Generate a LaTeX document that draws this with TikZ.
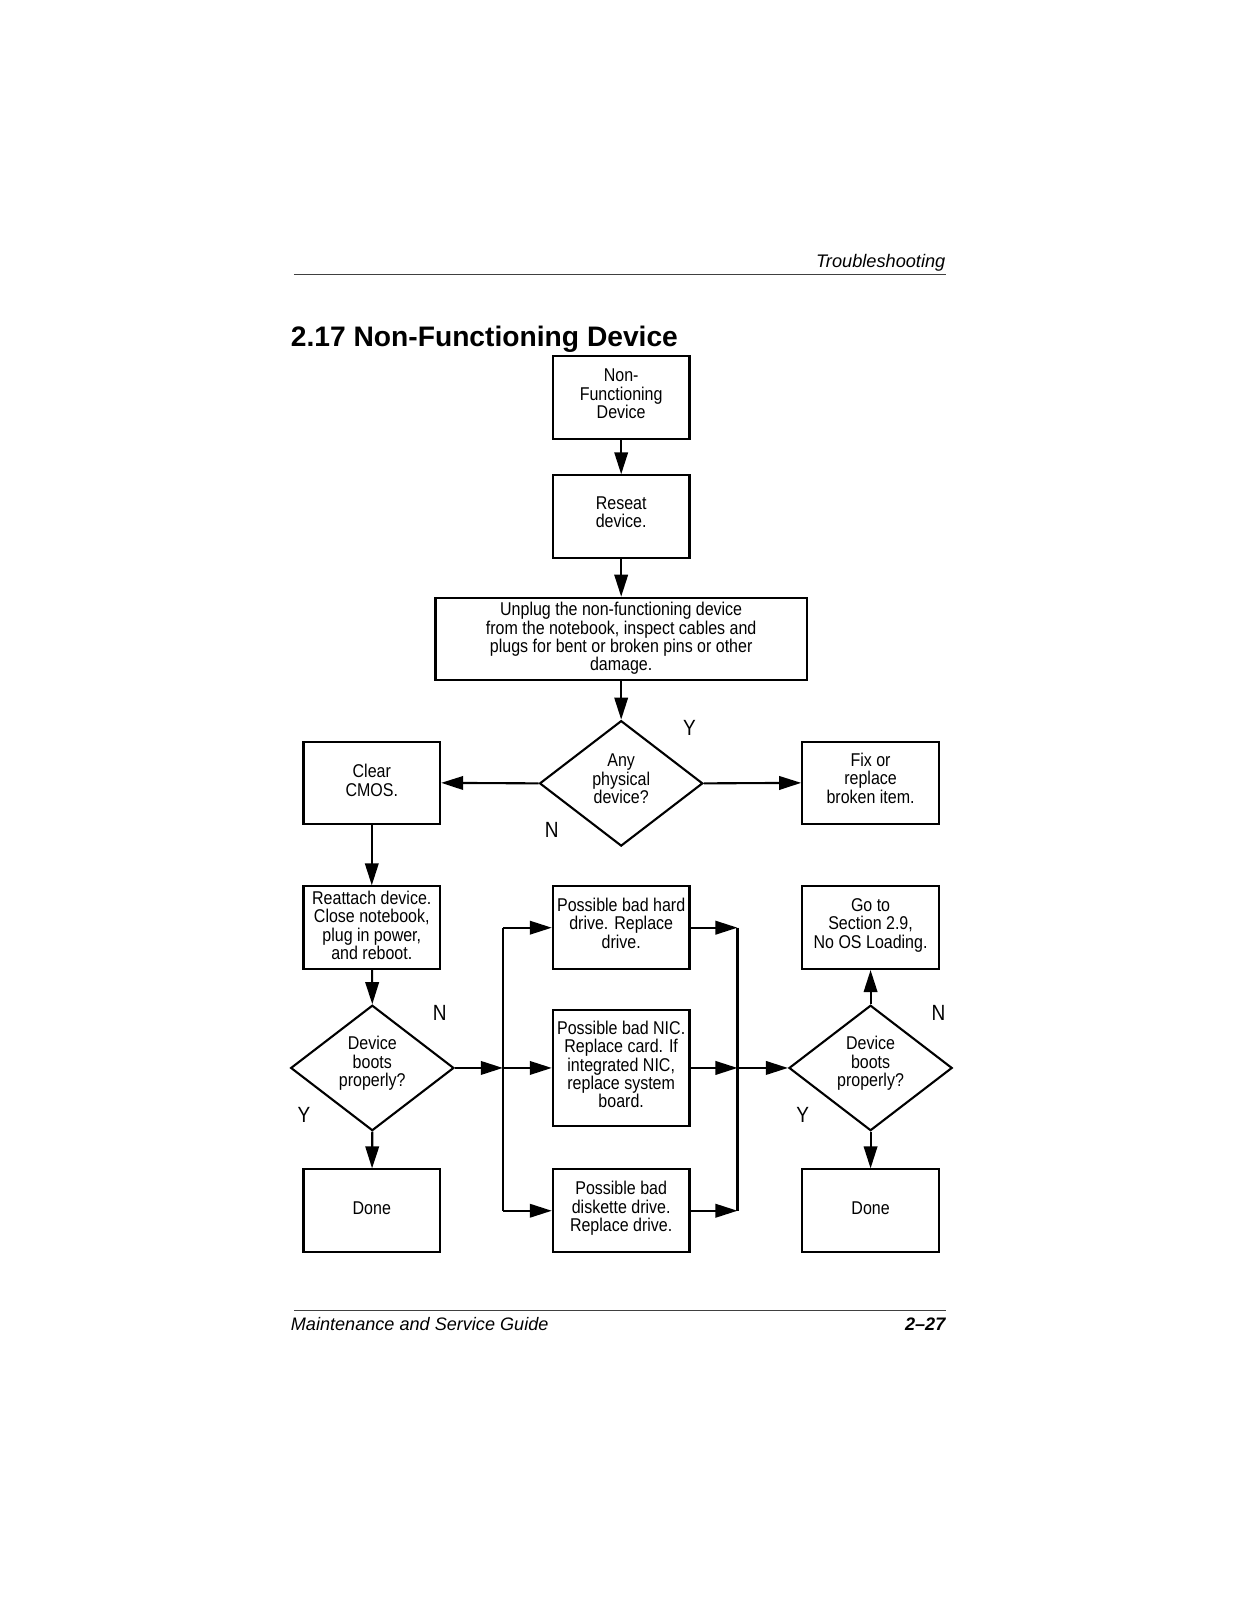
\documentclass[tikz,border=0pt]{standalone}
\usepackage{fontspec}
\setmainfont{Liberation Sans}
\newfontfamily\narrowfont{Liberation Sans}[FakeStretch=0.865]
\usetikzlibrary{arrows.meta,shapes.geometric}
\begin{document}
\begin{tikzpicture}[x=1.02pt,y=-1.02pt,
  every node/.style={inner sep=0pt},
  txt/.style={align=center,font=\narrowfont\fontsize{18.5}{18.4}\selectfont,yshift=4.5pt},
  box/.style={draw,line width=2.1pt,minimum width=1.02*134pt,minimum height=1.02*81pt},
  dia/.style={draw,line width=2.1pt,diamond,shape aspect=1.3,minimum width=1.02*160pt,minimum height=1.02*123pt},
  yn/.style={font=\narrowfont\fontsize{22}{22}\selectfont},
  conn/.style={line width=2.1pt},
  arr/.style={line width=2.1pt,-{Triangle[length=22pt,width=13.5pt]}}
]
\useasboundingbox (0,0) rectangle (1212.745,1568.627);
% header / footer
\node[anchor=base east,font=\itshape\fontsize{18.2}{18}\selectfont] (hdr) at (927,262) {Troubleshooting};
\coordinate (hl1) at (288,269); \coordinate (hl2) at (927,269);
\draw[line width=1.4pt,black!75] (hl1) -- (hl2);
\node[anchor=base west,font=\bfseries\fontsize{28.2}{30}\selectfont] (title) at (285,340) {2.17 Non-Functioning Device};
\coordinate (fl1) at (288,1285); \coordinate (fl2) at (927,1285);
\draw[line width=1.4pt,black!75] (fl1) -- (fl2);
\node[anchor=base west,font=\itshape\fontsize{18.1}{18}\selectfont] (ftl) at (285,1304) {Maintenance and Service Guide};
\node[anchor=base east,font=\bfseries\itshape\fontsize{18.1}{18}\selectfont] (ftr) at (927,1304) {2--27};

% connectors' free ends
\coordinate (lt) at (493,909.5);
\coordinate (lm) at (493,1047);
\coordinate (lb) at (493,1187);
\coordinate (rt) at (723,909.5);
\coordinate (rm) at (723,1047);
\coordinate (rb) at (723,1187);

% nodes
\node[box,label={[txt,yshift=-1pt]center:{Non-\\Functioning\\Device}}] (b1) at (609,389.5) {};
\node[box,label={[txt]center:{Reseat\\device.}}] (b2) at (609,506.5) {};
\node[box,minimum width=1.02*364pt,label={[txt,yshift=-4pt]center:{Unplug the non-functioning device\\from the notebook, inspect cables and\\plugs for bent or broken pins or other\\damage.}}] (b3) at (609,626.5) {};
\node[dia,label={[txt]center:{Any\\physical\\device?}}] (d1) at (609,768) {};
\node[box,label={[txt,yshift=-2pt]center:{Clear\\CMOS.}}] (cmos) at (364.5,767.5) {};
\node[box,label={[txt]center:{Fix or\\replace\\broken item.}}] (fix) at (853.5,767.5) {};
\node[box,label={[txt,yshift=-2pt]center:{Reattach device.\\Close notebook,\\plug in power,\\and reboot.}}] (reat) at (364.5,909.5) {};
\node[dia,label={[txt]center:{Device\\boots\\properly?}}] (d2) at (365,1047) {};
\node[box,label={[txt,yshift=-2pt]center:{Done}}] (done1) at (364.5,1187) {};
\node[box,label={[txt]center:{Possible bad hard\\drive. Replace\\drive.}}] (hard) at (609,909.5) {};
\node[box,minimum height=1.02*114pt,label={[txt,yshift=-1pt]center:{Possible bad NIC.\\Replace card. If\\integrated NIC,\\replace system\\board.}}] (nic) at (609,1047) {};
\node[box,label={[txt,yshift=-2pt]center:{Possible bad\\diskette drive.\\Replace drive.}}] (disk) at (609,1187) {};
\node[dia,label={[txt]center:{Device\\boots\\properly?}}] (d3) at (853.5,1047) {};
\node[box,label={[txt,yshift=-2pt]center:{Go to\\Section 2.9,\\No OS Loading.}}] (goto) at (853.5,909.5) {};
\node[box,label={[txt,yshift=-2pt]center:{Done}}] (done2) at (853.5,1187) {};

% Y / N labels
\node[yn] (ly1) at (676,714) {Y};
\node[yn] (ln1) at (541,814) {N};
\node[yn] (ln2) at (431,993) {N};
\node[yn] (ly2) at (298,1093) {Y};
\node[yn] (ln3) at (920,993) {N};
\node[yn] (ly3) at (787,1093) {Y};

% connectors
\draw[arr] (b1) -- (b2);
\draw[arr] (b2) -- (b3);
\draw[arr] (b3) -- (d1);
\draw[arr] (d1.west) -- (cmos.east);
\draw[arr] (d1.east) -- (fix.west);
\draw[arr] (cmos) -- (reat);
\draw[arr] (reat) -- (d2.north);
\draw[arr] (d2.south) -- (done1);
\draw[arr] (d2.east) -- (lm);
\draw[conn] (lt) -- (lb);
\draw[arr] (lt) -- (hard.west);
\draw[arr] (lm) -- (nic.west);
\draw[arr] (lb) -- (disk.west);
\draw[arr] (hard.east) -- (rt);
\draw[arr] (nic.east) -- (rm);
\draw[arr] (disk.east) -- (rb);
\draw[conn] (rt) -- (rb);
\draw[arr] (rm) -- (d3.west);
\draw[arr] (d3.north) -- (goto);
\draw[arr] (d3.south) -- (done2);
\end{tikzpicture}
\end{document}
